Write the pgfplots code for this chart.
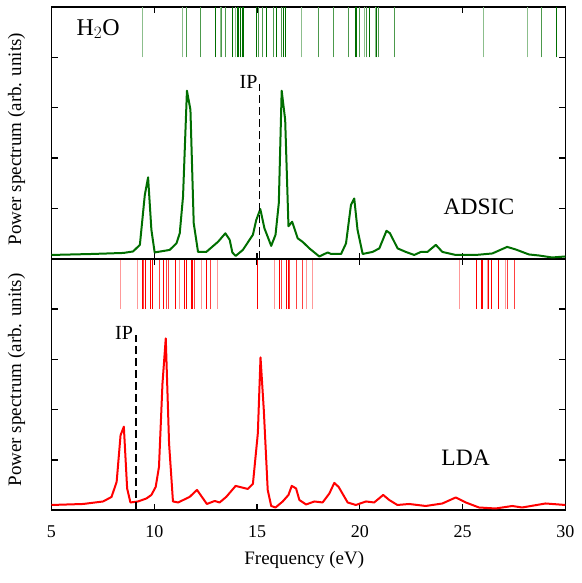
\documentclass[border=0pt]{standalone}
\usepackage{pgfplots}
\pgfplotsset{compat=1.18}
\usepackage{fontspec}
\setmainfont{Liberation Serif}
\newfontfamily\tnr{Liberation Serif}
\definecolor{dgreen}{RGB}{0,110,0}
\definecolor{lred}{RGB}{255,0,0}
\newcommand{\lbl}{\tnr\fontsize{18}{22}\selectfont}
\newcommand{\axlbl}{\tnr\fontsize{19}{23}\selectfont}
\pgfplotsset{
  panel/.style={
    scale only axis, width=513.8pt,
    xmin=5, xmax=30, ymin=0, ymax=5,
    xtick={5,10,...,30}, ytick={0,1,2,3,4,5}, yticklabels={},
    tick align=inside, major tick length=6pt,
    axis line style={line width=1.5pt},
    every tick/.style={black, line width=1.4pt},
    /pgf/number format/assume math mode=true,
    ticklabel style={font=\lbl},
    ylabel={Power spectrum (arb. units)},
    clip=true,
  },
  sticks/.style={draw=none, no markers, forget plot,
    error bars/.cd, y dir=plus, y fixed=1, error mark=none,
    error bar style={draw=#1, line width=1pt}},
}
\begin{document}
\begin{tikzpicture}
% ---------------- bottom panel (LDA) ----------------
\begin{axis}[panel, at={(0pt,0pt)}, height=251pt,
  xlabel={Frequency (eV)},
  xlabel style={font=\axlbl, at={(axis description cs:0.492,-0.219)}, anchor=base},
  ylabel style={font=\axlbl, at={(axis description cs:-0.068,0.518)}, anchor=center},
  xticklabel style={yshift=-12pt}]
% dark sticks
\addplot[sticks={lred}] coordinates {
(9.43,4)(9.57,4)(9.83,4)(9.89,4)(10.43,4)(11.03,4)(11.48,4)(11.56,4)(11.81,4)(11.88,4)
(12.53,4)(15.04,4)(16.09,4)(16.45,4)(16.53,4)(25.69,4)(25.93,4)(25.99,4)(26.28,4)(26.40,4)(26.74,4)};
% medium sticks
\addplot[sticks={lred!75!white}] coordinates {
(9.50,4)(10.27,4)(10.59,4)(10.70,4)(11.97,4)(12.74,4)(16.20,4)(16.58,4)(16.90,4)(17.22,4)(27.21,4)(27.53,4)};
% light sticks
\addplot[sticks={lred!40!white}] coordinates {
(8.37,4)(9.18,4)(11.24,4)(12.29,4)(13.07,4)(15.85,4)(17.39,4)(17.68,4)(24.86,4)(26.20,4)(27.10,4)};
\addplot[lred, line width=2pt, line join=round] coordinates {
(5.00,0.10)(6.54,0.12)(7.51,0.17)(7.92,0.26)(8.17,0.56)(8.36,1.49)(8.52,1.66)(8.68,0.43)
(8.84,0.15)(9.21,0.17)(9.62,0.23)(9.86,0.30)(10.07,0.46)(10.23,0.86)(10.40,2.52)(10.56,3.42)
(10.72,1.33)(10.91,0.17)(11.16,0.15)(11.72,0.26)(12.08,0.40)(12.56,0.12)(12.94,0.18)(13.18,0.15)
(13.50,0.26)(13.96,0.48)(14.55,0.42)(14.80,0.52)(15.04,1.53)(15.17,3.04)(15.33,1.99)(15.52,0.40)
(15.69,0.08)(15.90,0.05)(16.25,0.17)(16.53,0.30)(16.69,0.48)(16.90,0.43)(17.06,0.20)(17.39,0.11)
(17.79,0.17)(18.19,0.15)(18.52,0.33)(18.76,0.54)(18.97,0.46)(19.41,0.15)(19.81,0.10)(20.30,0.17)
(20.70,0.15)(21.14,0.30)(21.43,0.20)(21.83,0.10)(22.40,0.12)(23.21,0.08)(24.02,0.13)(24.67,0.25)
(25.16,0.15)(25.80,0.05)(26.61,0.03)(27.42,0.08)(27.90,0.05)(29.04,0.13)(30.00,0.10)};
\addplot[black, line width=1.8pt, dash pattern=on 8pt off 4pt] coordinates {(9.13,0)(9.13,3.49)};
\node[font=\tnr\fontsize{20}{24}\selectfont] at (axis cs:8.53,3.53) {IP};
\node[font=\tnr\fontsize{23.5}{27}\selectfont] at (axis cs:25.15,1.04) {LDA};
\end{axis}
% ---------------- top panel (ADSIC) ----------------
\begin{axis}[panel, at={(0pt,251pt)}, height=252pt, xticklabels={},
  ylabel style={font=\axlbl, at={(axis description cs:-0.068,0.476)}, anchor=center}]
% dark sticks
\addplot[sticks={dgreen}] coordinates {
(12.97,4)(13.79,4)(14.04,4)(14.12,4)(14.20,4)(14.28,4)(14.34,4)(14.96,4)(15.45,4)(15.93,4)
(16.29,4)(16.37,4)(19.77,4)(19.86,4)(20.46,4)(20.83,4)(29.55,4)};
% medium sticks
\addplot[sticks={dgreen!70!white}] coordinates {
(11.56,4)(12.26,4)(13.29,4)(13.45,4)(15.09,4)(15.28,4)(15.80,4)(16.20,4)(18.00,4)(18.71,4)
(19.44,4)(19.98,4)(20.35,4)(20.90,4)(21.71,4)(28.83,4)};
% light sticks
\addplot[sticks={dgreen!45!white}] coordinates {
(9.43,4)(11.35,4)(13.23,4)(13.96,4)(17.17,4)(20.25,4)(20.75,4)(26.00,4)(28.15,4)};
\addplot[dgreen, line width=2pt, line join=round] coordinates {
(5.00,0.08)(7.00,0.10)(8.50,0.12)(8.97,0.15)(9.30,0.28)(9.54,1.27)(9.70,1.62)(9.86,0.58)
(10.02,0.13)(10.75,0.18)(11.08,0.31)(11.24,0.51)(11.40,1.24)(11.59,3.34)(11.76,2.96)(11.92,0.71)
(12.13,0.14)(12.53,0.14)(13.10,0.34)(13.46,0.51)(13.67,0.38)(13.80,0.13)(13.96,0.06)(14.31,0.18)
(14.80,0.48)(14.96,0.77)(15.16,0.99)(15.36,0.61)(15.69,0.26)(15.90,0.48)(16.06,1.11)(16.20,3.34)
(16.37,2.76)(16.53,0.65)(16.71,0.74)(16.98,0.41)(17.22,0.34)(17.55,0.21)(18.03,0.05)(18.44,0.13)
(18.60,0.10)(19.09,0.10)(19.33,0.31)(19.57,1.07)(19.73,1.20)(19.89,0.58)(20.14,0.10)(20.62,0.14)
(20.95,0.21)(21.30,0.56)(21.47,0.51)(21.84,0.21)(22.24,0.14)(22.65,0.08)(22.97,0.14)(23.29,0.14)
(23.70,0.28)(24.02,0.14)(24.67,0.08)(25.64,0.08)(26.45,0.11)(27.17,0.24)(27.58,0.19)(28.23,0.09)
(28.71,0.07)(29.36,0.03)(30.00,0.05)};
\addplot[black, line width=1.8pt, dash pattern=on 8pt off 4pt] coordinates {(15.12,0)(15.12,3.47)};
\node[font=\tnr\fontsize{20}{24}\selectfont] at (axis cs:14.59,3.52) {IP};
\node[font=\tnr\fontsize{23.5}{27}\selectfont] at (axis cs:25.8,1.03) {ADSIC};
\node[font=\tnr\fontsize{24}{28}\selectfont] at (axis cs:7.27,4.56) {H$_2$O};
\end{axis}
\path (-51.5pt,-73pt) rectangle (529.5pt,510pt);
\end{tikzpicture}
\end{document}
